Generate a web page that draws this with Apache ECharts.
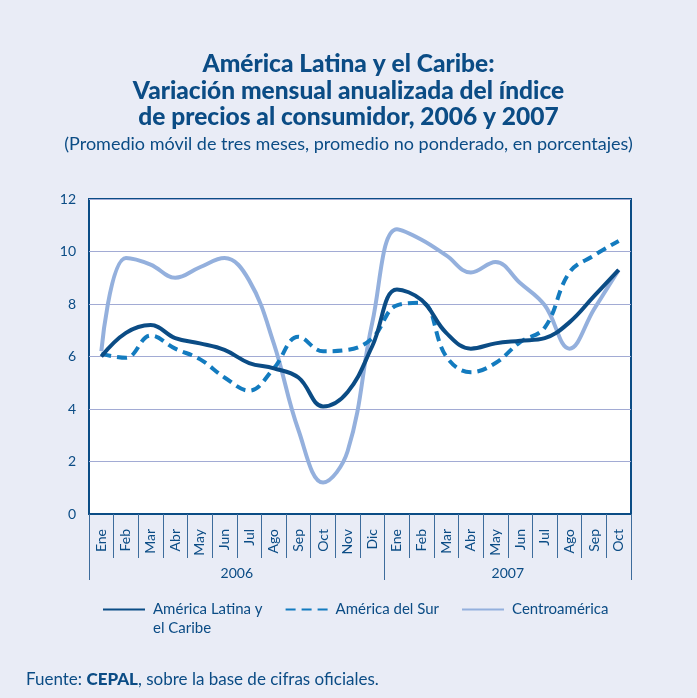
<!DOCTYPE html>
<html>
<head>
<meta charset="utf-8">
<script src="https://cdn.jsdelivr.net/npm/echarts@6/dist/echarts.min.js"></script>
<style>
  html, body { margin: 0; padding: 0; background: #e9ecf6; }
  #chart { width: 697px; height: 698px; }
</style>
</head>
<body>
<div id="chart"></div>
<script>
// meses (ene 2006 - oct 2007)
var months = ['Ene','Feb','Mar','Abr','May','Jun','Jul','Ago','Sep','Oct','Nov','Dic',
              'Ene','Feb','Mar','Abr','May','Jun','Jul','Ago','Sep','Oct'];
var yearLabels = ['2006', '2007'];
var yearBounds = [0, 12, 22];
var yearCenters = [6, 17];

var latinaCaribe = [6.0, 6.9, 7.2, 6.7, 6.5, 6.25, 5.75, 5.55, 5.2, 4.1, 4.65, 6.4,
                    8.55, 8.15, 6.9, 6.3, 6.5, 6.6, 6.7, 7.3, 8.3, 9.3];
var delSur = [6.1, 5.95, 6.8, 6.3, 5.9, 5.2, 4.7, 5.55, 6.75, 6.2, 6.25, 6.7,
              7.95, 8.05, 6.0, 5.4, 5.75, 6.55, 7.1, 9.2, 9.85, 10.4];
var centro = [6.2, 9.75, 9.5, 9.0, 9.4, 9.75, 8.9, 6.5, 3.2, 1.2, 2.4, 7.3,
              10.85, 10.45, 9.85, 9.2, 9.6, 8.8, 7.95, 6.3, 7.8, 9.3];

var seriesNames = ['América Latina y el Caribe', 'América del Sur', 'Centroamérica'];

var azul = '#0b4c85';
var font = 'Lato';

var chart = echarts.init(document.getElementById('chart'));

var option = {
    backgroundColor: '#e9ecf6',
    textStyle: { fontFamily: font },
    title: [{
        text: 'América Latina y el Caribe:\nVariación mensual anualizada del índice\nde precios al consumidor, 2006 y 2007',
        subtext: '(Promedio móvil de tres meses, promedio no ponderado, en porcentajes)',
        left: 'center',
        top: 46,
        itemGap: 5,
        textStyle: { fontFamily: font, fontSize: 24.5, fontWeight: 900, color: azul, lineHeight: 26.5 },
        subtextStyle: { fontFamily: font, fontSize: 18, color: azul }
    }, {
        text: '{n|Fuente: }{b|CEPAL}{n|, sobre la base de cifras oficiales.}',
        left: 21,
        top: 666,
        textStyle: {
            rich: {
                n: { fontFamily: font, fontSize: 17, color: azul, fontWeight: 'normal' },
                b: { fontFamily: font, fontSize: 17, color: azul, fontWeight: 900 }
            }
        }
    }],
    legend: {
        top: 576,
        left: 97,
        itemWidth: 42,
        itemHeight: 14,
        itemGap: 22,
        data: seriesNames,
        itemStyle: { opacity: 0 },
        textStyle: { fontFamily: font, fontSize: 15, color: azul, lineHeight: 19, padding: [0, 0, 0, 3] },
        // las tres etiquetas con tres renglones para que el icono quede en la primera linea
        formatter: function (name) {
            return name === seriesNames[0] ? ' \nAmérica Latina y\nel Caribe' : ' \n' + name + '\n ';
        }
    },
    grid: {
        left: 89,
        right: 66,
        top: 199,
        bottom: 184,
        show: true,
        backgroundColor: '#ffffff',
        borderColor: azul,
        borderWidth: 2
    },
    xAxis: [{
        type: 'category',
        data: months,
        boundaryGap: true,
        axisLine: { lineStyle: { color: azul, width: 2 } },
        axisTick: { show: true, interval: 0, length: 44, lineStyle: { color: '#3d6c9c', width: 1 } },
        axisLabel: { interval: 0, rotate: 90, margin: 15, fontSize: 14, color: azul, fontFamily: font },
        splitLine: { show: false }
    }, {
        type: 'value',
        position: 'bottom',
        offset: 44,
        min: 0,
        max: 22,
        axisLine: { show: false },
        axisTick: { show: true, customValues: yearBounds, length: 22, lineStyle: { color: '#3d6c9c', width: 1 } },
        axisLabel: {
            customValues: yearCenters,
            margin: 8,
            fontSize: 14,
            color: azul,
            fontFamily: font,
            formatter: function (v) { return yearLabels[yearCenters.indexOf(v)]; }
        },
        splitLine: { show: false }
    }],
    yAxis: {
        type: 'value',
        min: 0,
        max: 12,
        interval: 2,
        axisLine: { show: false },
        axisTick: { show: false },
        axisLabel: { margin: 13, fontSize: 14, color: azul, fontFamily: font },
        splitLine: { lineStyle: { color: '#a2abd4', width: 1 } }
    },
    series: [{
        name: seriesNames[0],
        type: 'line',
        data: latinaCaribe,
        smooth: 0.4,
        symbol: 'none',
        color: '#0b4c85',
        lineStyle: { width: 4, color: '#0b4c85' },
        z: 4
    }, {
        name: seriesNames[1],
        type: 'line',
        data: delSur,
        smooth: 0.4,
        symbol: 'none',
        color: '#137bbf',
        lineStyle: { width: 4, color: '#137bbf', type: [10, 6] },
        z: 3
    }, {
        name: seriesNames[2],
        type: 'line',
        data: centro,
        smooth: 0.4,
        symbol: 'none',
        color: '#94b0dd',
        lineStyle: { width: 4, color: '#94b0dd' },
        z: 2
    }]
};

chart.setOption(option);

window.addEventListener('resize', function () {
    chart && chart.resize();
});
</script>
</body>
</html>
